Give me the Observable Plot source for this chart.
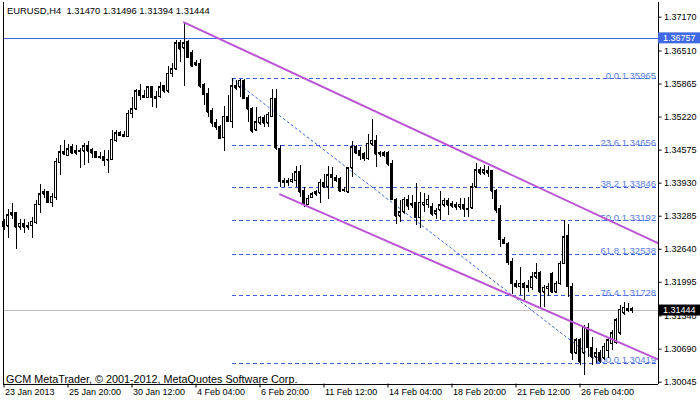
<!DOCTYPE html>
<html><head><meta charset="utf-8">
<script src="https://cdn.jsdelivr.net/npm/d3@7"></script>
<script src="https://cdn.jsdelivr.net/npm/@observablehq/plot@0.6"></script>
<style>
html,body{margin:0;padding:0;background:#fff;}
#chart svg{display:block;}
</style></head><body><div id="chart"></div>
<script>
// ---- data ----
const symbol = "EURUSD,H4";
const lastQuote = [1.31470, 1.31496, 1.31394, 1.31444]; // O H L C of current bar
const copyright = "GCM MetaTrader, \u00a9 2001-2012, MetaQuotes Software Corp.";

const open = [1.3318,1.3309,1.3330,1.3334,1.3307,1.3314,1.3307,1.3310,1.3316,1.3351,
1.3371,1.3375,1.3355,1.3365,1.3433,1.3453,1.3447,1.3463,1.3455,1.3455,
1.3455,1.3465,1.3457,1.3453,1.3445,1.3445,1.3439,1.3439,1.3476,1.3490,
1.3488,1.3484,1.3529,1.3537,1.3572,1.3564,1.3560,1.3580,1.3562,1.3562,
1.3582,1.3572,1.3607,1.3615,1.3666,1.3656,1.3668,1.3648,1.3627,1.3625,
1.3584,1.3568,1.3533,1.3510,1.3502,1.3482,1.3523,1.3513,1.3582,1.3580,
1.3593,1.3560,1.3537,1.3496,1.3510,1.3521,1.3510,1.3523,1.3558,1.3459,
1.3398,1.3398,1.3396,1.3398,1.3414,1.3377,1.3351,1.3365,1.3371,1.3373,
1.3394,1.3385,1.3408,1.3404,1.3402,1.3379,1.3375,1.3422,1.3463,1.3455,
1.3449,1.3441,1.3469,1.3476,1.3451,1.3451,1.3451,1.3431,1.3361,1.3328,
1.3336,1.3361,1.3350,1.3355,1.3326,1.3350,1.3351,1.3346,1.3332,1.3340,
1.3350,1.3359,1.3353,1.3351,1.3346,1.3351,1.3342,1.3344,1.3385,1.3418,
1.3412,1.3412,1.3416,1.3377,1.3342,1.3283,1.3275,1.3240,1.3197,1.3191,
1.3197,1.3193,1.3189,1.3209,1.3217,1.3180,1.3187,1.3215,1.3180,1.3197,
1.3236,1.3289,1.3191,1.3061,1.3086,1.3061,1.3111,1.3072,1.3053,1.3061,
1.3051,1.3066,1.3080,1.3082,1.3100,1.3139,1.3144,1.31470];
const high = [1.3322,1.3342,1.3353,1.3336,1.3322,1.3322,1.3316,1.3326,1.3359,1.3390,
1.3381,1.3377,1.3373,1.3441,1.3467,1.3476,1.3469,1.3469,1.3467,1.3461,
1.3470,1.3474,1.3461,1.3455,1.3453,1.3457,1.3457,1.3496,1.3496,1.3494,
1.3494,1.3535,1.3560,1.3576,1.3586,1.3574,1.3582,1.3582,1.3572,1.3590,
1.3584,1.3621,1.3627,1.3672,1.3672,1.3707,1.3672,1.3652,1.3633,1.3634,
1.3588,1.3578,1.3539,1.3517,1.3506,1.3543,1.3564,1.35965,1.3593,1.3595,
1.3595,1.3564,1.3541,1.3541,1.3523,1.3525,1.3531,1.3576,1.3576,1.3467,
1.3402,1.3402,1.3412,1.3426,1.3428,1.3385,1.3369,1.3375,1.3379,1.3400,
1.3410,1.3426,1.3424,1.3408,1.3404,1.3385,1.3424,1.3474,1.3467,1.3463,
1.3453,1.3488,1.3517,1.3486,1.3455,1.3455,1.3455,1.3437,1.3363,1.3359,
1.3365,1.3369,1.3369,1.3392,1.3375,1.3373,1.3369,1.3353,1.3344,1.3377,
1.3363,1.3363,1.3357,1.3355,1.3363,1.3363,1.3365,1.3392,1.3431,1.3424,
1.3428,1.3426,1.3418,1.3381,1.3349,1.3287,1.3277,1.3246,1.3203,1.3228,
1.3199,1.3203,1.3219,1.3236,1.3221,1.3193,1.3197,1.3219,1.3201,1.3240,
1.3320,1.3312,1.3197,1.3090,1.3090,1.3115,1.3119,1.3092,1.3070,1.3066,
1.3080,1.3092,1.3105,1.3129,1.3154,1.3160,1.3158,1.31496];
const low = [1.3301,1.3285,1.3322,1.3264,1.3301,1.3295,1.3301,1.3285,1.3312,1.3334,
1.3363,1.3353,1.3346,1.3359,1.3408,1.3447,1.3445,1.3449,1.3447,1.3422,
1.3428,1.3431,1.3441,1.3441,1.3439,1.3426,1.3412,1.3437,1.3472,1.3484,
1.3482,1.3482,1.3519,1.3535,1.3554,1.3558,1.3558,1.3541,1.3539,1.3558,
1.3568,1.3568,1.3599,1.3613,1.3629,1.3582,1.3636,1.3619,1.3621,1.3578,
1.3545,1.3521,1.3502,1.3496,1.3478,1.3455,1.3512,1.3500,1.3574,1.3560,
1.3556,1.3512,1.3490,1.3494,1.3506,1.3502,1.3502,1.3521,1.3457,1.3385,
1.3385,1.3387,1.3392,1.3385,1.3365,1.3346,1.3350,1.3363,1.3367,1.3353,
1.3383,1.3361,1.3385,1.3394,1.3375,1.3375,1.3373,1.3404,1.3449,1.3437,
1.3435,1.3437,1.3465,1.3424,1.3443,1.3443,1.3426,1.3359,1.3312,1.3316,
1.3332,1.3340,1.3344,1.3310,1.3305,1.3336,1.3344,1.3328,1.3322,1.3320,
1.3346,1.3330,1.3344,1.3340,1.3340,1.3326,1.3326,1.3342,1.3383,1.3408,
1.3408,1.3404,1.3361,1.3334,1.3267,1.3273,1.3232,1.3176,1.3187,1.3174,
1.3164,1.3180,1.3184,1.3205,1.3150,1.3150,1.3172,1.3178,1.3178,1.3193,
1.3234,1.3170,1.3047,1.3059,1.3037,1.3018,1.3053,1.3037,1.3041,1.30419,
1.3047,1.3051,1.3066,1.3078,1.3096,1.3135,1.3141,1.31394];
const close = [1.3307,1.3330,1.3334,1.3307,1.3314,1.3307,1.3310,1.3318,1.3351,1.3371,
1.3375,1.3355,1.3367,1.3435,1.3453,1.3449,1.3459,1.3451,1.3451,1.3454,
1.3465,1.3455,1.3451,1.3443,1.3443,1.3437,1.3438,1.3478,1.3490,1.3486,
1.3484,1.3529,1.3537,1.3572,1.3564,1.3560,1.3580,1.3560,1.3558,1.3580,
1.3572,1.3607,1.3615,1.3666,1.3654,1.3666,1.3638,1.3621,1.3623,1.3582,
1.3566,1.3531,1.3510,1.3502,1.3480,1.3523,1.3513,1.3582,1.3578,1.3593,
1.3558,1.3537,1.3494,1.3512,1.3521,1.3510,1.3527,1.3558,1.3461,1.3396,
1.3394,1.3394,1.3400,1.3414,1.3375,1.3351,1.3363,1.3371,1.3375,1.3394,
1.3385,1.3408,1.3404,1.3398,1.3377,1.3378,1.3422,1.3463,1.3451,1.3447,
1.3441,1.3470,1.3476,1.3449,1.3449,1.3447,1.3430,1.3361,1.3328,1.3336,
1.3361,1.3348,1.3353,1.3326,1.3355,1.3355,1.3361,1.3332,1.3338,1.3350,
1.3359,1.3350,1.3348,1.3346,1.3351,1.3342,1.3341,1.3385,1.3418,1.3412,
1.3418,1.3416,1.3377,1.3340,1.3283,1.3275,1.3238,1.3197,1.3191,1.3197,
1.3189,1.3189,1.3209,1.3217,1.3180,1.3189,1.3191,1.3180,1.3197,1.3236,
1.3287,1.3191,1.3061,1.3086,1.3043,1.3111,1.3072,1.3053,1.3061,1.3045,
1.3074,1.3086,1.3100,1.3125,1.3146,1.3150,1.3147,1.31444];

const timeTickBars = [0,16,32,48,64,80,96,112,128,144];
const timeTickLabels = ["23 Jan 2013","25 Jan 20:00","30 Jan 12:00","4 Feb 04:00","6 Feb 20:00",
  "11 Feb 12:00","14 Feb 04:00","18 Feb 20:00","21 Feb 12:00","26 Feb 04:00"];
const priceTicks = [1.37170,1.36510,1.35865,1.35220,1.34575,1.33930,1.33285,1.32640,1.31995,1.31340,1.30690,1.30045];

const fibRatios = ["0.0","23.6","38.2","50.0","61.8","76.4","100.0"];
const fibPrices = [1.35965,1.34656,1.33846,1.33192,1.32538,1.31728,1.30419];
const fibStartBar = 57;
const fibTrendBars = [57,149];
const fibTrendPrices = [1.35965,1.30419];

const upperBars = [45,163.5];
const upperPrices = [1.3707,1.3276];
const lowerBars = [69,163.5];
const lowerPrices = [1.3371,1.3049];

const hLinePrice = 1.36757;
const bidPrice = lastQuote[3];

// ---- build ----
const blue = "#3a62e6";
const fibText = "#5a7be6";
const orchid = "#BA55D3";
const xDomain = [-0.25, 163.5];
const yDomain = [1.30010, 1.37457];

const bars = open.map((o, i) => ({i, o, h: high[i], l: low[i], c: close[i]}));
const fib = fibPrices.map((p, k) => ({p, label: fibRatios[k] + " " + p.toFixed(5)}));
const trend = fibTrendBars.map((b, k) => ({b, p: fibTrendPrices[k]}));
const upper = upperBars.map((b, k) => ({b, p: upperPrices[k]}));
const lower = lowerBars.map((b, k) => ({b, p: lowerPrices[k]}));
const boxes = [{p: hLinePrice, fill: "#4169E1"}, {p: bidPrice, fill: "black"}];
const header = symbol + "\u00a0\u00a0" + lastQuote.map(v => v.toFixed(5)).join(" ");

const chart = Plot.plot({
  width: 700, height: 402,
  marginLeft: 2.5, marginRight: 42.5, marginTop: 2, marginBottom: 18.5,
  style: {fontFamily: "'Liberation Sans', Arial, sans-serif", fontSize: "9px", background: "white", overflow: "visible"},
  x: {domain: xDomain, ticks: timeTickBars, tickFormat: () => "", tickSize: 4, label: null},
  y: {domain: yDomain, axis: "right", ticks: priceTicks, tickFormat: d => d.toFixed(5), tickSize: 3, tickPadding: 3, label: null},
  marks: [
    Plot.ruleY([bidPrice], {stroke: "#c0c0c0", shapeRendering: "crispEdges"}),
    Plot.ruleY([hLinePrice], {stroke: "#4169E1", shapeRendering: "crispEdges"}),
    Plot.ruleY(fib, {y: "p", x1: fibStartBar, x2: xDomain[1], stroke: blue, strokeDasharray: "4,3", shapeRendering: "crispEdges"}),
    Plot.text(fib, {y: "p", x: xDomain[1], text: "label", textAnchor: "end", lineAnchor: "bottom", dx: -2, dy: 0, fill: fibText, fontSize: 9.5}),
    Plot.line(trend, {x: "b", y: "p", stroke: blue, strokeWidth: 1, strokeDasharray: "2,3"}),
    Plot.ruleX(bars, {x: "i", y1: "l", y2: "h", stroke: "black", shapeRendering: "crispEdges"}),
    Plot.rect(bars, {x1: d => d.i - 0.25, x2: d => d.i + 0.25, y1: "o", y2: "c",
      fill: d => d.c > d.o ? "white" : "black", stroke: "black", shapeRendering: "crispEdges"}),
    Plot.ruleY(bars, {y: "o", x1: d => d.i - 0.25, x2: d => d.i + 0.25, stroke: "black", shapeRendering: "crispEdges"}),
    Plot.ruleY(bars, {y: "c", x1: d => d.i - 0.25, x2: d => d.i + 0.25, stroke: "black", shapeRendering: "crispEdges"}),
    Plot.line(upper, {x: "b", y: "p", stroke: orchid, strokeWidth: 2}),
    Plot.line(lower, {x: "b", y: "p", stroke: orchid, strokeWidth: 2}),
    Plot.ruleX([xDomain[0], xDomain[1]], {stroke: "black", shapeRendering: "crispEdges"}),
    Plot.ruleY([yDomain[0]], {stroke: "black", shapeRendering: "crispEdges"}),
    Plot.rect(boxes, {x1: xDomain[1], x2: xDomain[1], y1: "p", y2: "p", insetLeft: 0.5, insetRight: -42.5,
      insetTop: -5.5, insetBottom: -5.5, fill: "fill"}),
    Plot.text(boxes, {x: xDomain[1], y: "p", text: d => d.p.toFixed(5), textAnchor: "start", dx: 5, fill: "white"}),
    Plot.text(timeTickBars, {x: d => d, text: (d, k) => timeTickLabels[k], frameAnchor: "bottom",
      lineAnchor: "top", textAnchor: "start", dx: 1, dy: 5, fill: "black"}),
    Plot.text([header], {frameAnchor: "top-left", textAnchor: "start", lineAnchor: "top", dx: 4, dy: 5, fill: "black", fontSize: 9.4}),
    Plot.text([copyright], {frameAnchor: "bottom-left", textAnchor: "start", lineAnchor: "bottom", dx: 3, dy: -1, fill: "black", fontSize: 10.8})
  ]
});
document.getElementById("chart").appendChild(chart);
</script></body></html>
